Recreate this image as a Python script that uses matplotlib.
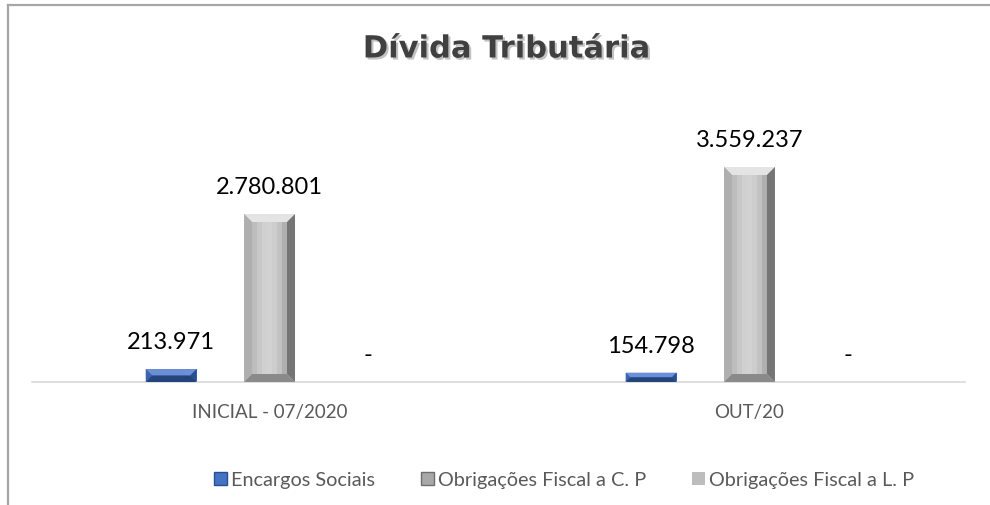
import matplotlib
matplotlib.use("Agg")
import matplotlib.pyplot as plt
import matplotlib.patheffects as pe
from matplotlib.patches import Polygon, Rectangle
from matplotlib.lines import Line2D
from matplotlib.transforms import IdentityTransform
import numpy as np

categories = ["INICIAL - 07/2020", "OUT/20"]
series_names = ["Encargos Sociais", "Obrigações Fiscal a C. P", "Obrigações Fiscal a L. P"]
encargos = [213971, 154798]
fiscal_cp = [2780801, 3559237]
fiscal_lp = [0, 0]
title = "Dívida Tributária"

def fmt(v):
    if v == 0:
        return "-"
    return f"{v:,.0f}".replace(",", ".")

W, H = 990, 506
fig = plt.figure(figsize=(W / 100, H / 100), dpi=100)
fig.patch.set_facecolor("white")

ax_left, ax_right = 32 / W, 965 / W
ax_bottom = (H - 383) / H
ax_top = (H - 100) / H
ax = fig.add_axes([ax_left, ax_bottom, ax_right - ax_left, ax_top - ax_bottom])

x = np.arange(len(categories))
width = 0.106
offset = 0.205
series = [encargos, fiscal_cp, fiscal_lp]
colors = ["#4472C4", "#C8C8C8", "#BDBDBD"]

bar_groups = []
for i, (vals, col) in enumerate(zip(series, colors)):
    bars = ax.bar(x + (i - 1) * offset, vals, width, color=col, edgecolor="none", zorder=2)
    bar_groups.append(bars)

ax.set_xlim(-0.495, 1.449)
px_per_val = 215 / 3559237
ax.set_ylim(0, 283 / px_per_val)

for s in ["top", "right", "left"]:
    ax.spines[s].set_visible(False)
ax.spines["bottom"].set_color("#D9D9D9")
ax.spines["bottom"].set_linewidth(1.2)
ax.set_yticks([])
ax.set_xticks(x)
ax.set_xticklabels(categories, fontfamily="Lato", fontsize=13.5, color="#595959")
ax.tick_params(axis="x", length=0, pad=15)

# value labels
for bars, vals in zip(bar_groups, series):
    for b, v in zip(bars, vals):
        ax.annotate(fmt(v), (b.get_x() + b.get_width() / 2, v),
                    xytext=(0, 12), textcoords="offset points",
                    ha="center", va="bottom", fontfamily="Lato", fontsize=17,
                    color="#000000")

# bevel decorations derived from bar geometry
fig.canvas.draw()
bev = 8
def bevel(b, top_col, left_col, right_col, bottom_col, center_cols):
    bb = b.get_window_extent()
    x0, y0, x1, y1 = bb.x0, bb.y0, bb.x1, bb.y1
    if y1 - y0 < 1:
        return
    e = min(bev, (y1 - y0) / 2, (x1 - x0) / 2)
    n = len(center_cols)
    for k, c in enumerate(center_cols):
        cx0 = x0 + e + (x1 - x0 - 2 * e) * k / n
        cx1 = x0 + e + (x1 - x0 - 2 * e) * (k + 1) / n + 0.5
        fig.patches.append(Rectangle((cx0, y0 + e), cx1 - cx0, y1 - y0 - 2 * e,
                                     transform=IdentityTransform(), facecolor=c, edgecolor="none", zorder=3))
    polys = [
        ([(x0, y1), (x1, y1), (x1 - e, y1 - e), (x0 + e, y1 - e)], top_col),
        ([(x0, y0), (x0, y1), (x0 + e, y1 - e), (x0 + e, y0 + e)], left_col),
        ([(x1, y0), (x1, y1), (x1 - e, y1 - e), (x1 - e, y0 + e)], right_col),
        ([(x0, y0), (x1, y0), (x1 - e, y0 + e), (x0 + e, y0 + e)], bottom_col),
    ]
    for pts, c in polys:
        fig.patches.append(Polygon(pts, closed=True, transform=IdentityTransform(),
                                   facecolor=c, edgecolor="none", zorder=3))

for b in bar_groups[0]:
    bevel(b, "#6D8FD6", "#3A64B0", "#2A4F8F", "#24447C",
          ["#3F6BBB", "#4472C4", "#4A78C8", "#4472C4", "#3D67B5"])
for b in bar_groups[1]:
    bevel(b, "#E4E4E4", "#AFAFAF", "#757575", "#8A8A8A",
          ["#BDBDBD", "#C8C8C8", "#D0D0D0", "#D2D2D2", "#CDCDCD", "#C2C2C2", "#B0B0B0"])

# title with shadow
fig.text(506 / W, 1 - 50 / H, title, ha="center", va="center",
         fontfamily="DejaVu Sans", fontweight="bold", fontsize=22, color="#404040",
         path_effects=[pe.withSimplePatchShadow(offset=(1.5, -1.5), shadow_rgbFace="#9A9A9A", alpha=0.6)])

# legend
handles = [
    Rectangle((0, 0), 1, 1, facecolor="#4472C4", edgecolor="#2A4F8F", linewidth=1),
    Rectangle((0, 0), 1, 1, facecolor="#A8A8A8", edgecolor="#6E6E6E", linewidth=1),
    Rectangle((0, 0), 1, 1, facecolor="#BDBDBD", edgecolor="none"),
]
leg = fig.legend(handles, series_names, loc="center", bbox_to_anchor=(564 / W, 1 - 481 / H),
                 ncol=3, frameon=False, handlelength=0.65, handleheight=0.65,
                 handletextpad=0.2, columnspacing=2.3,
                 prop={"family": "Lato", "size": 14.3})
for t in leg.get_texts():
    t.set_color("#595959")

# outer chart border (partially visible)
fig.add_artist(Line2D([7.5 / W, 7.5 / W], [0, 1 - 6 / H], transform=fig.transFigure,
                      color="#A6A6A6", linewidth=1.6))
fig.add_artist(Line2D([7.5 / W, 1], [1 - 6 / H, 1 - 6 / H], transform=fig.transFigure,
                      color="#A6A6A6", linewidth=1.6))

fig.savefig("out.png", dpi=100)
